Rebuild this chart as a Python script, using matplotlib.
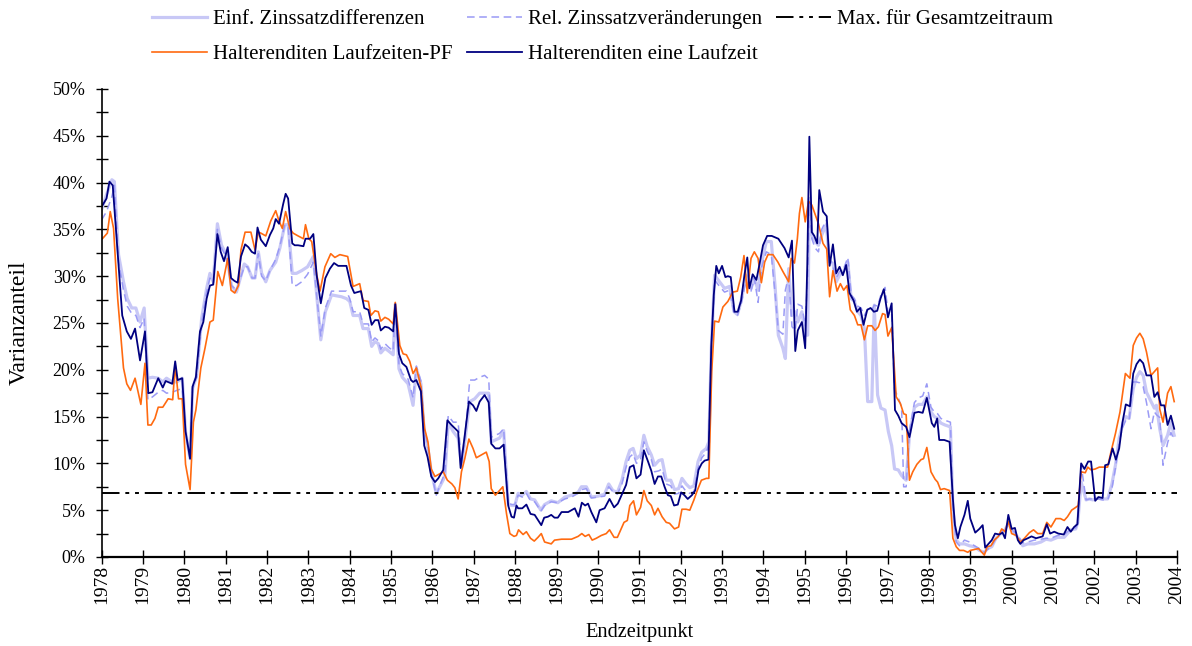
import numpy as np
import matplotlib.pyplot as plt
from matplotlib.ticker import MultipleLocator, FuncFormatter

plt.rcParams['font.family'] = ['Liberation Serif', 'DejaVu Serif']

# (Endzeitpunkt, Varianzanteil in %)
einf = np.array([
    (1978.00, 37.1), (1978.12, 38.7), (1978.25, 40.3), (1978.31, 40.1), (1978.41, 32.3), (1978.53, 29.4),
    (1978.62, 27.6), (1978.73, 26.6), (1978.83, 26.6), (1978.93, 25.1), (1979.03, 26.6), (1979.12, 19.1),
    (1979.23, 19.2), (1979.37, 19.1), (1979.48, 18.7), (1979.57, 19.1), (1979.71, 18.7), (1979.82, 18.7),
    (1979.95, 19.1), (1980.03, 13.4), (1980.14, 10.5), (1980.20, 18.0), (1980.30, 19.4), (1980.42, 25.5),
    (1980.54, 28.7), (1980.62, 30.3), (1980.70, 29.4), (1980.80, 35.6), (1980.90, 33.3), (1981.02, 32.3),
    (1981.14, 29.0), (1981.26, 28.3), (1981.45, 31.3), (1981.53, 31.0), (1981.64, 29.8), (1981.71, 29.8),
    (1981.79, 32.6), (1981.87, 30.3), (1981.97, 29.4), (1982.07, 30.6), (1982.21, 31.5), (1982.31, 33.0),
    (1982.43, 35.5), (1982.51, 35.5), (1982.61, 30.3), (1982.71, 30.3), (1982.84, 30.6), (1982.98, 31.0),
    (1983.12, 32.1), (1983.20, 28.0), (1983.30, 23.2), (1983.41, 26.2), (1983.56, 28.0), (1983.80, 27.8),
    (1983.92, 27.6), (1984.00, 27.3), (1984.08, 25.8), (1984.24, 25.8), (1984.32, 24.4), (1984.45, 24.4),
    (1984.53, 22.5), (1984.61, 23.0), (1984.69, 22.8), (1984.75, 21.8), (1984.85, 22.3), (1984.94, 22.0),
    (1985.05, 21.6), (1985.10, 27.0), (1985.19, 20.1), (1985.27, 19.2), (1985.41, 18.5), (1985.53, 16.2),
    (1985.61, 20.1), (1985.72, 18.5), (1985.80, 13.4), (1985.89, 11.6), (1985.97, 9.1), (1986.09, 6.8),
    (1986.21, 7.8), (1986.30, 8.6), (1986.38, 14.4), (1986.50, 13.4), (1986.62, 12.7), (1986.70, 9.8),
    (1986.78, 12.3), (1986.90, 16.6), (1987.02, 16.9), (1987.14, 17.5), (1987.26, 17.5), (1987.36, 17.5),
    (1987.42, 12.3), (1987.52, 12.5), (1987.62, 12.7), (1987.72, 13.5), (1987.83, 5.7), (1987.91, 5.5),
    (1987.99, 5.5), (1988.07, 6.8), (1988.17, 6.6), (1988.27, 7.0), (1988.37, 6.2), (1988.47, 6.1),
    (1988.62, 5.0), (1988.71, 5.6), (1988.87, 6.0), (1989.03, 5.8), (1989.20, 6.4), (1989.36, 6.6),
    (1989.52, 6.9), (1989.60, 7.5), (1989.72, 7.5), (1989.84, 6.4), (1990.00, 6.5), (1990.16, 6.7),
    (1990.26, 7.8), (1990.36, 7.1), (1990.47, 6.9), (1990.58, 8.2), (1990.68, 10.2), (1990.77, 11.4),
    (1990.85, 11.6), (1990.93, 10.5), (1991.03, 10.9), (1991.11, 13.0), (1991.19, 11.8), (1991.29, 10.9),
    (1991.37, 9.8), (1991.47, 10.3), (1991.55, 10.4), (1991.65, 8.2), (1991.76, 8.2), (1991.85, 7.2),
    (1991.95, 7.3), (1992.03, 8.4), (1992.13, 7.8), (1992.22, 7.4), (1992.32, 7.6), (1992.42, 10.2),
    (1992.51, 11.2), (1992.62, 11.6), (1992.68, 12.3), (1992.74, 22.3), (1992.82, 30.1), (1992.94, 29.4),
    (1993.06, 28.7), (1993.18, 28.9), (1993.29, 26.2), (1993.37, 25.9), (1993.46, 27.3), (1993.58, 30.1),
    (1993.70, 28.7), (1993.78, 29.8), (1993.87, 28.5), (1993.96, 31.5), (1994.07, 33.7), (1994.19, 33.7),
    (1994.28, 29.0), (1994.36, 23.7), (1994.47, 22.3), (1994.53, 21.2), (1994.61, 30.8), (1994.69, 25.8),
    (1994.77, 26.2), (1994.83, 25.1), (1994.93, 26.2), (1995.01, 23.7), (1995.07, 23.7), (1995.11, 38.3),
    (1995.17, 34.4), (1995.25, 33.7), (1995.33, 33.3), (1995.41, 34.4), (1995.52, 35.5), (1995.60, 31.5),
    (1995.68, 31.4), (1995.76, 29.4), (1995.84, 30.1), (1995.94, 30.5), (1996.04, 31.5), (1996.12, 27.6),
    (1996.20, 27.3), (1996.28, 26.2), (1996.36, 25.8), (1996.44, 24.4), (1996.52, 16.6), (1996.62, 16.6),
    (1996.68, 26.9), (1996.76, 17.3), (1996.84, 15.9), (1996.94, 15.7), (1997.02, 13.4), (1997.10, 11.9),
    (1997.17, 9.4), (1997.26, 9.3), (1997.34, 8.7), (1997.45, 8.2), (1997.53, 13.0), (1997.65, 16.0),
    (1997.75, 16.3), (1997.85, 16.3), (1997.95, 17.1), (1998.05, 15.5), (1998.13, 15.0), (1998.21, 14.8),
    (1998.29, 14.3), (1998.39, 14.1), (1998.52, 13.9), (1998.58, 5.2), (1998.66, 1.8), (1998.74, 1.4),
    (1998.86, 1.4), (1998.98, 1.2), (1999.10, 1.1), (1999.22, 0.7), (1999.34, 0.5), (1999.42, 0.9),
    (1999.52, 1.1), (1999.62, 2.0), (1999.74, 2.5), (1999.84, 2.9), (1999.92, 3.6), (2000.03, 2.7),
    (2000.15, 2.1), (2000.27, 1.2), (2000.39, 1.4), (2000.55, 1.4), (2000.71, 1.6), (2000.83, 1.9),
    (2000.95, 1.8), (2001.11, 2.1), (2001.27, 2.1), (2001.43, 2.9), (2001.55, 3.0), (2001.60, 3.7),
    (2001.68, 8.0), (2001.80, 6.1), (2001.88, 6.2), (2001.96, 6.1), (2002.08, 6.3), (2002.20, 6.2),
    (2002.32, 6.2), (2002.42, 7.7), (2002.51, 9.8), (2002.60, 12.7), (2002.68, 14.1), (2002.76, 15.0),
    (2002.84, 14.8), (2002.94, 18.0), (2003.02, 19.2), (2003.10, 19.8), (2003.18, 19.4), (2003.26, 17.6),
    (2003.37, 16.6), (2003.45, 15.9), (2003.50, 16.2), (2003.58, 13.7), (2003.66, 11.9), (2003.77, 13.0),
    (2003.85, 14.4), (2003.93, 13.0),
])

rel = np.array([
    (1978.00, 36.0), (1978.12, 36.9), (1978.25, 38.5), (1978.31, 39.7), (1978.41, 31.5), (1978.53, 28.5),
    (1978.62, 26.8), (1978.73, 26.0), (1978.83, 25.8), (1978.93, 24.5), (1979.03, 25.5), (1979.12, 16.8),
    (1979.23, 17.1), (1979.37, 17.6), (1979.48, 17.8), (1979.57, 17.5), (1979.71, 17.6), (1979.82, 17.8),
    (1979.95, 18.0), (1980.03, 13.4), (1980.14, 10.5), (1980.20, 18.0), (1980.30, 19.2), (1980.42, 25.0),
    (1980.54, 28.3), (1980.62, 29.8), (1980.70, 29.2), (1980.80, 35.0), (1980.90, 33.0), (1981.02, 32.0),
    (1981.14, 29.0), (1981.26, 28.5), (1981.45, 31.0), (1981.53, 31.0), (1981.64, 29.8), (1981.71, 29.8),
    (1981.79, 32.4), (1981.87, 30.0), (1981.97, 29.5), (1982.07, 30.6), (1982.21, 31.8), (1982.31, 33.2),
    (1982.43, 35.5), (1982.51, 35.3), (1982.61, 29.0), (1982.71, 29.0), (1982.84, 29.4), (1982.98, 30.2),
    (1983.12, 31.5), (1983.20, 28.0), (1983.30, 23.6), (1983.41, 26.6), (1983.56, 28.4), (1983.80, 28.4),
    (1983.92, 28.4), (1984.00, 27.6), (1984.08, 26.2), (1984.24, 26.2), (1984.32, 24.9), (1984.45, 24.9),
    (1984.53, 23.0), (1984.61, 23.4), (1984.69, 23.1), (1984.75, 22.2), (1984.85, 22.8), (1984.94, 22.4),
    (1985.05, 22.0), (1985.10, 27.0), (1985.19, 20.5), (1985.27, 19.6), (1985.41, 19.0), (1985.53, 17.0),
    (1985.61, 20.4), (1985.72, 18.8), (1985.80, 13.8), (1985.89, 11.8), (1985.97, 9.0), (1986.09, 6.6),
    (1986.21, 8.0), (1986.30, 9.0), (1986.38, 15.1), (1986.50, 14.4), (1986.62, 14.4), (1986.70, 10.0),
    (1986.78, 12.5), (1986.90, 18.9), (1987.02, 18.9), (1987.14, 19.2), (1987.26, 19.4), (1987.36, 19.0),
    (1987.42, 12.8), (1987.52, 13.0), (1987.62, 13.2), (1987.72, 13.7), (1987.83, 5.8), (1987.91, 5.6),
    (1987.99, 5.6), (1988.07, 6.6), (1988.17, 6.4), (1988.27, 6.8), (1988.37, 6.0), (1988.47, 5.9),
    (1988.62, 4.9), (1988.71, 5.5), (1988.87, 5.9), (1989.03, 5.8), (1989.20, 6.2), (1989.36, 6.4),
    (1989.52, 6.8), (1989.60, 7.2), (1989.72, 7.3), (1989.84, 6.3), (1990.00, 6.4), (1990.16, 6.5),
    (1990.26, 7.5), (1990.36, 7.0), (1990.47, 6.7), (1990.58, 7.8), (1990.68, 9.6), (1990.77, 10.7),
    (1990.85, 11.0), (1990.93, 10.0), (1991.03, 10.4), (1991.11, 12.3), (1991.19, 11.3), (1991.29, 10.4),
    (1991.37, 9.1), (1991.47, 9.2), (1991.55, 9.4), (1991.65, 7.8), (1991.76, 7.6), (1991.85, 6.7),
    (1991.95, 6.8), (1992.03, 7.6), (1992.13, 7.0), (1992.22, 6.8), (1992.32, 7.0), (1992.42, 9.5),
    (1992.51, 10.6), (1992.62, 11.2), (1992.68, 12.0), (1992.74, 22.0), (1992.82, 29.6), (1992.94, 28.9),
    (1993.06, 28.3), (1993.18, 28.5), (1993.29, 26.0), (1993.37, 25.8), (1993.46, 27.0), (1993.58, 29.6),
    (1993.70, 28.4), (1993.78, 29.8), (1993.87, 27.2), (1993.96, 31.0), (1994.07, 32.6), (1994.19, 32.3),
    (1994.28, 28.2), (1994.36, 24.2), (1994.47, 23.8), (1994.53, 28.5), (1994.61, 30.0), (1994.69, 24.6),
    (1994.77, 24.2), (1994.83, 27.0), (1994.93, 26.8), (1995.01, 24.7), (1995.07, 30.0), (1995.11, 37.9),
    (1995.17, 34.0), (1995.25, 33.0), (1995.33, 32.6), (1995.41, 35.0), (1995.52, 36.0), (1995.60, 32.0),
    (1995.68, 31.0), (1995.76, 29.8), (1995.84, 30.5), (1995.94, 30.8), (1996.04, 32.0), (1996.12, 28.0),
    (1996.20, 27.6), (1996.28, 26.8), (1996.36, 26.6), (1996.44, 25.8), (1996.52, 26.5), (1996.62, 26.4),
    (1996.68, 26.9), (1996.76, 26.8), (1996.84, 28.0), (1996.94, 28.8), (1997.02, 25.8), (1997.10, 26.0),
    (1997.17, 17.9), (1997.26, 17.0), (1997.34, 16.0), (1997.39, 7.5), (1997.45, 7.5), (1997.53, 13.5),
    (1997.65, 16.5), (1997.75, 17.0), (1997.85, 17.2), (1997.95, 18.5), (1998.05, 16.0), (1998.13, 15.5),
    (1998.21, 15.3), (1998.29, 14.8), (1998.39, 14.6), (1998.52, 14.4), (1998.58, 5.5), (1998.66, 1.6),
    (1998.74, 1.2), (1998.86, 1.8), (1998.98, 1.6), (1999.10, 1.2), (1999.22, 0.9), (1999.34, 0.5),
    (1999.42, 0.8), (1999.52, 1.2), (1999.62, 2.0), (1999.74, 2.6), (1999.84, 3.0), (1999.92, 3.8),
    (2000.03, 2.8), (2000.15, 2.3), (2000.27, 1.5), (2000.39, 1.6), (2000.55, 1.8), (2000.71, 1.9),
    (2000.83, 2.0), (2000.95, 2.0), (2001.11, 2.3), (2001.27, 2.4), (2001.43, 3.0), (2001.55, 3.1),
    (2001.60, 3.6), (2001.68, 9.8), (2001.80, 6.1), (2001.88, 6.2), (2001.96, 6.2), (2002.08, 6.2),
    (2002.20, 6.1), (2002.32, 6.1), (2002.42, 7.2), (2002.51, 9.5), (2002.60, 12.3), (2002.68, 13.8),
    (2002.76, 14.6), (2002.84, 14.6), (2002.94, 18.7), (2003.02, 18.7), (2003.10, 18.6), (2003.18, 18.2),
    (2003.26, 16.5), (2003.37, 13.7), (2003.45, 15.5), (2003.50, 15.2), (2003.58, 14.9), (2003.66, 9.8),
    (2003.77, 12.2), (2003.85, 13.3), (2003.93, 12.5),
])

laufzeiten_pf = np.array([
    (1978.02, 34.0), (1978.14, 34.6), (1978.21, 36.9), (1978.29, 35.1), (1978.39, 27.6), (1978.53, 20.2),
    (1978.61, 18.5), (1978.70, 17.8), (1978.81, 19.1), (1978.95, 16.3), (1979.05, 20.7), (1979.12, 14.1),
    (1979.20, 14.1), (1979.29, 14.8), (1979.37, 16.0), (1979.48, 16.0), (1979.61, 16.9), (1979.72, 16.8),
    (1979.78, 20.5), (1979.86, 16.9), (1979.95, 16.9), (1980.03, 9.9), (1980.14, 7.2), (1980.22, 14.4),
    (1980.28, 15.7), (1980.40, 20.2), (1980.50, 22.3), (1980.62, 25.1), (1980.70, 25.3), (1980.81, 30.5),
    (1980.92, 29.0), (1981.05, 31.9), (1981.13, 28.5), (1981.22, 28.2), (1981.31, 29.0), (1981.37, 32.8),
    (1981.47, 34.7), (1981.61, 34.7), (1981.71, 32.8), (1981.79, 34.7), (1981.85, 34.6), (1981.97, 34.3),
    (1982.09, 35.9), (1982.21, 37.0), (1982.29, 35.9), (1982.37, 35.1), (1982.45, 36.9), (1982.55, 35.1),
    (1982.63, 34.6), (1982.75, 34.3), (1982.88, 34.0), (1982.93, 35.5), (1983.01, 34.0), (1983.08, 33.7),
    (1983.20, 30.2), (1983.28, 28.4), (1983.40, 31.0), (1983.54, 32.4), (1983.64, 32.0), (1983.76, 32.3),
    (1983.95, 32.1), (1984.08, 28.9), (1984.24, 29.2), (1984.32, 27.4), (1984.45, 27.3), (1984.51, 25.8),
    (1984.61, 26.3), (1984.69, 26.2), (1984.75, 25.2), (1984.85, 25.6), (1984.94, 25.4), (1985.05, 24.9),
    (1985.10, 27.2), (1985.21, 22.6), (1985.29, 21.7), (1985.37, 21.6), (1985.45, 20.9), (1985.53, 19.6),
    (1985.61, 20.2), (1985.72, 18.2), (1985.81, 13.7), (1985.89, 12.3), (1985.97, 9.4), (1986.06, 8.6),
    (1986.18, 8.9), (1986.26, 9.1), (1986.36, 8.2), (1986.47, 7.8), (1986.54, 7.4), (1986.62, 6.2),
    (1986.70, 9.1), (1986.78, 10.5), (1986.88, 12.6), (1986.98, 11.6), (1987.06, 10.6), (1987.18, 10.9),
    (1987.30, 11.2), (1987.37, 10.2), (1987.42, 7.3), (1987.52, 6.6), (1987.62, 7.1), (1987.70, 7.5),
    (1987.79, 4.6), (1987.87, 2.5), (1987.97, 2.2), (1988.03, 2.3), (1988.08, 2.9), (1988.19, 2.4),
    (1988.27, 2.7), (1988.37, 2.0), (1988.46, 1.7), (1988.55, 2.1), (1988.63, 2.5), (1988.71, 1.6),
    (1988.87, 1.4), (1988.95, 1.8), (1989.12, 1.9), (1989.36, 1.9), (1989.52, 2.2), (1989.61, 2.5),
    (1989.69, 2.2), (1989.78, 2.4), (1989.86, 1.8), (1989.96, 2.0), (1990.08, 2.3), (1990.20, 2.5),
    (1990.28, 2.9), (1990.39, 2.1), (1990.47, 2.1), (1990.56, 3.0), (1990.63, 3.7), (1990.71, 3.9),
    (1990.77, 5.5), (1990.86, 6.0), (1990.93, 4.5), (1991.03, 5.3), (1991.11, 7.1), (1991.19, 6.0),
    (1991.29, 5.5), (1991.37, 4.5), (1991.45, 5.2), (1991.55, 4.3), (1991.65, 3.7), (1991.73, 3.6),
    (1991.85, 3.0), (1991.95, 3.2), (1992.03, 5.1), (1992.13, 5.1), (1992.22, 5.0), (1992.32, 6.1),
    (1992.40, 7.1), (1992.50, 8.2), (1992.62, 8.4), (1992.68, 8.4), (1992.75, 19.8), (1992.82, 25.2),
    (1992.92, 25.1), (1993.02, 26.7), (1993.14, 27.3), (1993.26, 28.3), (1993.37, 28.4), (1993.45, 29.9),
    (1993.53, 32.2), (1993.61, 28.2), (1993.70, 31.9), (1993.78, 32.6), (1993.87, 31.9), (1993.95, 29.3),
    (1994.03, 31.5), (1994.11, 32.3), (1994.23, 32.3), (1994.35, 31.5), (1994.47, 30.5), (1994.61, 29.4),
    (1994.67, 31.9), (1994.75, 31.4), (1994.82, 34.0), (1994.87, 36.7), (1994.93, 38.4), (1995.01, 35.8),
    (1995.09, 38.0), (1995.17, 37.6), (1995.25, 36.6), (1995.33, 35.6), (1995.44, 33.5), (1995.53, 32.9),
    (1995.60, 27.8), (1995.68, 30.6), (1995.78, 28.4), (1995.86, 29.2), (1995.94, 28.5), (1996.02, 29.0),
    (1996.10, 26.4), (1996.20, 25.8), (1996.28, 24.8), (1996.36, 24.8), (1996.44, 23.2), (1996.52, 24.7),
    (1996.62, 24.7), (1996.70, 24.2), (1996.78, 24.6), (1996.88, 26.0), (1996.94, 25.9), (1997.01, 23.6),
    (1997.10, 24.5), (1997.17, 19.8), (1997.21, 17.1), (1997.31, 16.4), (1997.39, 15.3), (1997.45, 15.2),
    (1997.53, 8.2), (1997.61, 9.1), (1997.71, 9.9), (1997.81, 10.4), (1997.87, 10.5), (1997.95, 11.7),
    (1998.05, 9.1), (1998.15, 8.3), (1998.21, 8.0), (1998.28, 7.2), (1998.37, 7.3), (1998.50, 7.1),
    (1998.58, 2.0), (1998.66, 1.1), (1998.74, 0.7), (1998.84, 0.7), (1998.94, 0.5), (1999.00, 0.7),
    (1999.10, 0.8), (1999.20, 0.9), (1999.28, 0.5), (1999.34, 0.2), (1999.41, 1.1), (1999.50, 1.2),
    (1999.58, 1.8), (1999.68, 2.2), (1999.76, 3.0), (1999.84, 2.7), (1999.92, 3.8), (2000.00, 2.5),
    (2000.11, 2.3), (2000.21, 1.6), (2000.31, 2.0), (2000.43, 2.6), (2000.53, 2.9), (2000.63, 2.5),
    (2000.75, 2.5), (2000.85, 3.7), (2000.95, 3.2), (2001.07, 4.1), (2001.18, 4.1), (2001.27, 3.9),
    (2001.35, 4.3), (2001.45, 5.0), (2001.55, 5.3), (2001.61, 5.5), (2001.68, 9.1), (2001.78, 9.0),
    (2001.84, 9.6), (2001.92, 9.3), (2002.02, 9.4), (2002.12, 9.6), (2002.32, 9.6), (2002.40, 11.2),
    (2002.51, 13.2), (2002.62, 15.5), (2002.75, 19.6), (2002.86, 19.1), (2002.94, 22.6), (2003.02, 23.4),
    (2003.10, 23.9), (2003.18, 23.3), (2003.26, 21.9), (2003.37, 19.4), (2003.45, 19.8), (2003.53, 20.2),
    (2003.58, 15.8), (2003.66, 14.4), (2003.77, 17.5), (2003.85, 18.2), (2003.93, 16.6),
])

eine_laufzeit = np.array([
    (1978.00, 37.4), (1978.12, 38.3), (1978.19, 40.1), (1978.27, 39.7), (1978.37, 33.7), (1978.50, 25.8),
    (1978.61, 24.1), (1978.71, 23.3), (1978.81, 24.4), (1978.93, 21.0), (1979.05, 24.1), (1979.13, 17.5),
    (1979.23, 17.6), (1979.37, 19.1), (1979.48, 18.1), (1979.55, 18.8), (1979.71, 18.5), (1979.78, 20.9),
    (1979.84, 18.9), (1979.95, 19.1), (1980.03, 13.4), (1980.14, 10.5), (1980.20, 18.2), (1980.28, 19.2),
    (1980.38, 24.1), (1980.46, 25.1), (1980.54, 27.6), (1980.62, 29.0), (1980.70, 29.1), (1980.80, 34.5),
    (1980.88, 32.6), (1980.96, 31.6), (1981.05, 33.1), (1981.13, 29.8), (1981.21, 29.5), (1981.29, 29.3),
    (1981.37, 32.1), (1981.47, 33.4), (1981.55, 33.1), (1981.63, 32.6), (1981.71, 32.4), (1981.77, 35.2),
    (1981.85, 33.9), (1981.97, 33.2), (1982.07, 34.4), (1982.15, 35.1), (1982.21, 36.1), (1982.29, 35.6),
    (1982.39, 37.7), (1982.45, 38.8), (1982.51, 38.3), (1982.61, 33.5), (1982.67, 33.3), (1982.75, 33.3),
    (1982.88, 33.2), (1982.93, 34.0), (1983.04, 34.0), (1983.12, 34.5), (1983.20, 30.1), (1983.30, 27.1),
    (1983.41, 29.8), (1983.52, 30.8), (1983.62, 31.4), (1983.72, 31.1), (1983.92, 31.1), (1984.03, 29.0),
    (1984.11, 28.2), (1984.27, 28.4), (1984.35, 26.6), (1984.45, 26.4), (1984.53, 24.8), (1984.61, 25.3),
    (1984.69, 25.3), (1984.75, 24.2), (1984.85, 24.6), (1984.94, 24.5), (1985.05, 24.1), (1985.10, 27.0),
    (1985.19, 21.7), (1985.27, 20.7), (1985.37, 20.3), (1985.48, 18.9), (1985.53, 18.7), (1985.61, 18.9),
    (1985.72, 17.7), (1985.80, 11.9), (1985.88, 10.7), (1985.97, 8.6), (1986.06, 8.0), (1986.14, 8.4),
    (1986.26, 9.3), (1986.36, 14.6), (1986.46, 14.1), (1986.62, 13.4), (1986.68, 9.5), (1986.78, 13.0),
    (1986.88, 16.6), (1986.98, 16.2), (1987.06, 15.6), (1987.14, 16.6), (1987.26, 17.3), (1987.36, 16.5),
    (1987.42, 12.1), (1987.52, 11.6), (1987.62, 11.6), (1987.72, 12.0), (1987.83, 5.5), (1987.91, 4.3),
    (1987.97, 4.2), (1988.03, 5.5), (1988.07, 5.2), (1988.17, 5.2), (1988.27, 5.6), (1988.37, 4.6),
    (1988.47, 4.5), (1988.63, 3.4), (1988.70, 4.2), (1988.79, 4.3), (1988.87, 4.5), (1988.95, 4.2),
    (1989.03, 4.2), (1989.12, 4.8), (1989.28, 4.8), (1989.44, 5.2), (1989.53, 4.3), (1989.61, 5.8),
    (1989.69, 5.5), (1989.76, 5.7), (1989.84, 4.8), (1989.96, 3.7), (1990.04, 5.0), (1990.16, 5.2),
    (1990.28, 6.2), (1990.39, 5.3), (1990.48, 5.7), (1990.60, 6.9), (1990.68, 7.7), (1990.77, 9.6),
    (1990.86, 9.8), (1990.93, 8.4), (1991.03, 8.8), (1991.11, 11.4), (1991.21, 10.2), (1991.29, 9.2),
    (1991.37, 7.8), (1991.45, 8.6), (1991.53, 8.6), (1991.61, 7.5), (1991.69, 6.6), (1991.76, 6.5),
    (1991.84, 5.5), (1991.93, 5.6), (1992.01, 6.9), (1992.09, 6.6), (1992.17, 6.2), (1992.27, 6.6),
    (1992.35, 7.1), (1992.43, 9.3), (1992.51, 10.0), (1992.58, 10.3), (1992.67, 10.4), (1992.74, 22.6),
    (1992.80, 28.0), (1992.86, 31.1), (1992.92, 30.3), (1993.00, 31.1), (1993.08, 29.9), (1993.14, 30.0),
    (1993.21, 29.9), (1993.30, 26.2), (1993.38, 26.2), (1993.46, 27.4), (1993.54, 30.1), (1993.61, 32.0),
    (1993.66, 28.7), (1993.74, 30.2), (1993.83, 29.6), (1993.91, 31.4), (1993.99, 33.3), (1994.09, 34.3),
    (1994.20, 34.3), (1994.36, 34.0), (1994.51, 33.0), (1994.61, 32.0), (1994.69, 33.8), (1994.77, 22.0),
    (1994.83, 24.2), (1994.93, 25.1), (1995.01, 22.3), (1995.06, 31.2), (1995.11, 44.9), (1995.17, 34.7),
    (1995.23, 34.3), (1995.30, 33.5), (1995.35, 39.2), (1995.44, 36.9), (1995.53, 36.4), (1995.60, 31.1),
    (1995.68, 33.4), (1995.76, 30.3), (1995.84, 31.0), (1995.92, 30.1), (1996.00, 31.2), (1996.08, 28.2),
    (1996.18, 27.4), (1996.26, 26.2), (1996.34, 26.6), (1996.42, 24.8), (1996.51, 26.4), (1996.59, 26.6),
    (1996.67, 26.2), (1996.75, 26.3), (1996.83, 27.6), (1996.91, 28.6), (1997.01, 25.6), (1997.10, 27.1),
    (1997.18, 15.7), (1997.26, 15.1), (1997.34, 14.3), (1997.45, 13.9), (1997.53, 12.8), (1997.65, 15.4),
    (1997.75, 15.5), (1997.85, 15.4), (1997.95, 17.0), (1998.07, 14.3), (1998.13, 13.9), (1998.20, 14.8),
    (1998.25, 12.5), (1998.37, 12.5), (1998.50, 12.3), (1998.58, 6.2), (1998.63, 3.4), (1998.70, 2.0),
    (1998.76, 3.2), (1998.86, 4.5), (1998.94, 6.0), (1999.00, 4.1), (1999.12, 2.6), (1999.22, 3.0),
    (1999.30, 3.4), (1999.36, 1.0), (1999.44, 1.4), (1999.52, 1.8), (1999.60, 2.5), (1999.70, 2.4),
    (1999.78, 2.6), (1999.84, 2.0), (1999.92, 4.5), (2000.00, 3.0), (2000.08, 3.1), (2000.15, 1.8),
    (2000.21, 1.4), (2000.29, 1.8), (2000.39, 2.0), (2000.48, 2.2), (2000.59, 2.0), (2000.75, 2.2),
    (2000.85, 3.5), (2000.93, 2.5), (2001.03, 2.7), (2001.13, 2.5), (2001.26, 2.4), (2001.35, 3.2),
    (2001.43, 2.7), (2001.51, 3.2), (2001.59, 3.5), (2001.68, 10.0), (2001.76, 9.4), (2001.85, 10.2),
    (2001.92, 10.2), (2002.02, 6.0), (2002.10, 6.4), (2002.20, 6.3), (2002.26, 9.8), (2002.34, 9.9),
    (2002.44, 11.6), (2002.52, 10.4), (2002.60, 11.6), (2002.68, 14.4), (2002.76, 16.3), (2002.86, 16.1),
    (2002.94, 19.6), (2003.02, 20.6), (2003.10, 21.1), (2003.18, 20.7), (2003.26, 19.4), (2003.37, 19.4),
    (2003.45, 17.1), (2003.53, 17.6), (2003.61, 16.2), (2003.69, 16.2), (2003.77, 14.1), (2003.85, 15.1),
    (2003.93, 13.7),
])

max_gesamt = 6.8
years = list(range(1978, 2005))

fig = plt.figure(figsize=(11.92, 6.46), dpi=100)
ax = fig.add_axes([0.0852, 0.1378, 0.9023, 0.7245])

l1, = ax.plot(einf[:, 0], einf[:, 1], color='#c8c8f6', lw=2.3, solid_joinstyle='round')
l2, = ax.plot(rel[:, 0], rel[:, 1], color='#9a9af5', lw=1.1, ls=(0, (5, 3)))
l3 = ax.axhline(max_gesamt, color='black', lw=1.4, ls=(0, (9, 3, 2, 3, 2, 3)))
l4, = ax.plot(laufzeiten_pf[:, 0], laufzeiten_pf[:, 1], color='#ff6a10', lw=1.2)
l5, = ax.plot(eine_laufzeit[:, 0], eine_laufzeit[:, 1], color='#000080', lw=1.3)

ax.set_xlim(1978, 2004)
ax.set_ylim(0, 50)
for s in ['top', 'right']:
    ax.spines[s].set_visible(False)
ax.spines['left'].set_linewidth(1.2)
ax.spines['bottom'].set_linewidth(1.6)

ax.set_xticks(years)
ax.set_xticklabels([str(y) for y in years], rotation=90, fontsize=14)
ax.yaxis.set_major_locator(MultipleLocator(5))
ax.yaxis.set_minor_locator(MultipleLocator(2.5))
ax.yaxis.set_major_formatter(FuncFormatter(lambda v, p: '%d%%' % v))
ax.tick_params(axis='y', which='both', direction='inout', length=8, width=1, labelsize=13, pad=7.5)
ax.tick_params(axis='x', direction='inout', length=10, width=1, pad=0.8)

ax.set_ylabel('Varianzanteil', fontsize=17)
ax.yaxis.set_label_coords(-0.067, 0.5)
ax.set_xlabel('Endzeitpunkt', fontsize=14.7)
ax.xaxis.set_label_coords(0.5, -0.142)

fig.legend([l1, l4, l2, l5, l3],
           ['Einf. Zinssatzdifferenzen', 'Halterenditen Laufzeiten-PF',
            'Rel. Zinssatzveränderungen', 'Halterenditen eine Laufzeit',
            'Max. für Gesamtzeitraum'],
           ncol=3, loc='upper left', bbox_to_anchor=(0.1118, 1.014), frameon=False,
           fontsize=15, handlelength=2.65, handletextpad=0.3, columnspacing=0.65,
           labelspacing=0.72)

fig.savefig('out.png', dpi=100)
